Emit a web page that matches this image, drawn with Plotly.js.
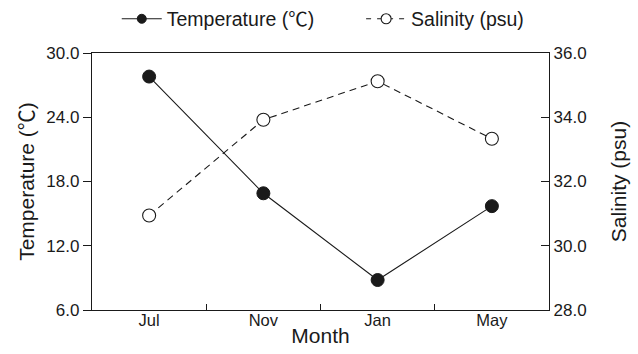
<!DOCTYPE html>
<html>
<head>
<meta charset="utf-8">
<script src="https://cdn.plot.ly/plotly-3.0.1.min.js"></script>
<style>html,body{margin:0;padding:0;background:#fff;}#chart{width:638px;height:354px;}</style>
</head>
<body>
<div id="chart"></div>
<script>
const months = ["Jul", "Nov", "Jan", "May"];
const temperature = [27.8, 16.9, 8.8, 15.7];
const salinity = [30.94, 33.92, 35.12, 33.33];
const seriesNames = ["Temperature (℃)", "Salinity (psu)"];

const font = "'Liberation Sans', Arial, 'Noto Sans CJK SC', sans-serif";
const ink = "#1a1a1a";

const tempLine = {color: ink, width: 1.1};
const salLine = {color: ink, width: 1.1, dash: "7px,5px"};

const traces = [
  {
    x: months, y: temperature, name: seriesNames[0], showlegend: false,
    type: "scatter", mode: "lines+markers", line: tempLine,
    marker: {symbol: "circle", size: 13, color: ink, line: {color: ink, width: 1}},
    yaxis: "y"
  },
  {
    x: months, y: salinity, name: seriesNames[1], showlegend: false,
    type: "scatter", mode: "lines+markers", line: salLine,
    marker: {symbol: "circle", size: 13, color: "#fff", line: {color: ink, width: 1.1}},
    yaxis: "y2"
  },
  {
    x: [null], y: [null], name: seriesNames[0], showlegend: true, legend: "legend",
    type: "scatter", mode: "lines+markers", line: tempLine,
    marker: {symbol: "circle", size: 9, color: ink, line: {color: ink, width: 1}}
  },
  {
    x: [null], y: [null], name: seriesNames[1], showlegend: true, legend: "legend2",
    type: "scatter", mode: "lines+markers", line: {color: ink, width: 1.1, dash: "5px,6px"},
    marker: {symbol: "circle", size: 10, color: "#fff", line: {color: ink, width: 1.1}},
    yaxis: "y2"
  }
];

const legendBase = {orientation: "h", xref: "container", yref: "container",
  xanchor: "left", y: 0.946, yanchor: "middle",
  font: {size: 19.5, color: ink}, bgcolor: "rgba(0,0,0,0)", itemwidth: 40};

const layout = {
  width: 638, height: 354,
  margin: {l: 92, r: 89, t: 53, b: 44},
  paper_bgcolor: "#fff", plot_bgcolor: "#fff",
  font: {family: font, size: 17, color: ink},
  showlegend: true,
  legend: Object.assign({}, legendBase, {x: 0.183}),
  legend2: Object.assign({}, legendBase, {x: 0.566}),
  xaxis: {
    type: "category", range: [-0.5, 3.5], tickson: "boundaries",
    ticks: "inside", ticklen: 6, tickcolor: ink, tickwidth: 1,
    showline: true, linecolor: ink, linewidth: 1.2, mirror: true,
    showgrid: false, zeroline: false, ticklabelstandoff: -5,
    tickfont: {size: 16.5, color: ink},
    title: {text: "Month", font: {size: 21, color: ink}, standoff: 0}
  },
  yaxis: {
    range: [6, 30], dtick: 6, tick0: 6, tickformat: ".1f",
    ticks: "outside", ticklen: 8, tickcolor: ink, tickwidth: 1,
    showline: true, linecolor: ink, linewidth: 1.2,
    showgrid: false, zeroline: false,
    tickfont: {size: 17, color: ink},
    title: {text: "Temperature (℃)", font: {size: 21, color: ink}, standoff: 6}
  },
  yaxis2: {
    overlaying: "y", side: "right",
    range: [28, 36], dtick: 2, tick0: 28, tickformat: ".1f",
    ticks: "inside", ticklen: 8, tickcolor: ink, tickwidth: 1,
    showline: true, linecolor: ink, linewidth: 1.2,
    showgrid: false, zeroline: false,
    tickfont: {size: 17, color: ink},
    title: {text: "Salinity (psu)", font: {size: 21, color: ink}, standoff: 25}
  }
};

Plotly.newPlot("chart", traces, layout, {displayModeBar: false, staticPlot: true});
</script>
</body>
</html>
